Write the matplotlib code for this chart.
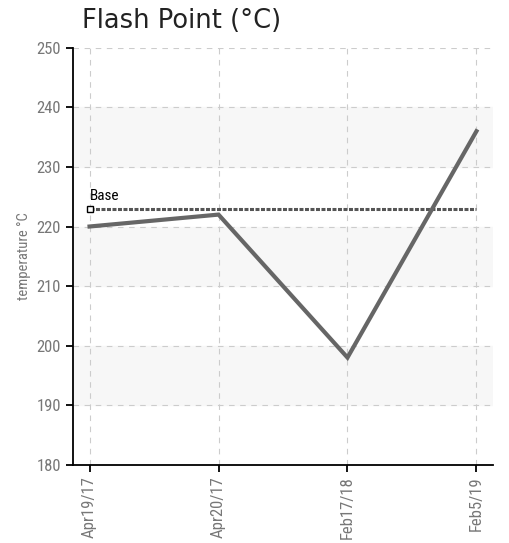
import matplotlib
matplotlib.use("Agg")
import matplotlib.pyplot as plt
import numpy as np

dates = ["Apr19/17", "Apr20/17", "Feb17/18", "Feb5/19"]
flash = [220, 222, 198, 236]
base = 223

narrow = ["Roboto Condensed", "DejaVu Sans"]

fig = plt.figure(figsize=(5.09, 5.43), dpi=100)
ax = fig.add_axes([0.143, 0.144, 0.826, 0.768])

x = np.arange(len(dates))

# alternating bands
for lo in [190, 210, 230]:
    ax.axhspan(lo, lo + 10, color="#f7f7f7", zorder=0)

ax.plot(x, flash, color="#666666", lw=3, solid_joinstyle="miter", zorder=3)
ax.plot([x[0], x[-1]], [base, base], color="#555555", lw=2.2,
        linestyle=(0, (1.3, 0.5)), zorder=2)
ax.plot([x[0]], [base], marker="s", ms=5, mfc="white", mec="black", mew=1, zorder=4)
ax.text(x[0], base + 1, "Base", fontsize=11, family=narrow, color="black",
        ha="left", va="bottom")

ax.set_xlim(-0.13, 3.13)
ax.set_ylim(180, 250)
ax.set_yticks(range(180, 251, 10))
ax.set_xticks(x)
ax.set_xticklabels(dates, rotation=90, family=narrow, fontsize=12, color="#777777")
for lab in ax.get_yticklabels():
    lab.set_family(narrow)
    lab.set_fontsize(12)
    lab.set_color("#777777")

ax.grid(True, color="#cccccc", linestyle=(0, (5, 5)), lw=0.8)
ax.set_axisbelow(True)
for s in ["top", "right"]:
    ax.spines[s].set_visible(False)
ax.spines["left"].set_linewidth(1.3)
ax.spines["bottom"].set_linewidth(1.3)
ax.tick_params(length=5, width=1.3, color="black")

ax.set_ylabel("temperature °C", family=narrow, fontsize=10.5, color="#777777",
              labelpad=4)
fig.text(0.161, 0.962, "Flash Point (°C)", fontsize=18.5, color="#222222",
         ha="left", va="center")

fig.savefig("out.png", dpi=100)
